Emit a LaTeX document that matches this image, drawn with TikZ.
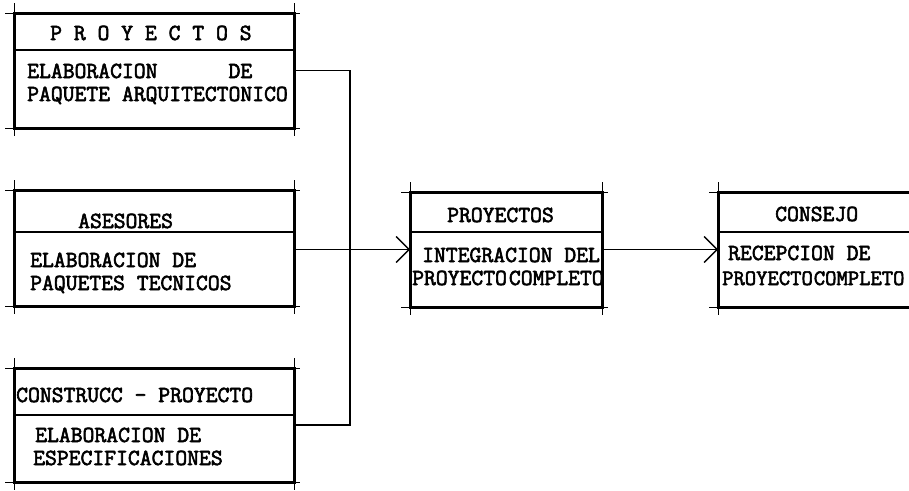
\documentclass[tikz,border=0pt]{standalone}
\usepackage{fontspec}
\newfontfamily\tw{Latin Modern Mono}[FakeBold=2.6]
\usetikzlibrary{arrows.meta}
\newcommand\crnr[1]{%
\draw[tick] ([xshift=-9pt]#1.north west) -- ([xshift=6pt]#1.north east);
\draw[tick] ([xshift=-9pt]#1.south west) -- ([xshift=6pt]#1.south east);
\draw[tick] ([yshift=10pt]#1.north west) -- ([yshift=-8pt]#1.south west);
\draw[tick] ([yshift=10pt]#1.north east) -- ([yshift=-8pt]#1.south east);}
\begin{document}
\begin{tikzpicture}[x=1pt,y=-1pt,
 box/.style={draw, line width=3pt, rectangle, inner sep=0pt, outer sep=0pt},
 tick/.style={line width=0.9pt},
 div/.style={line width=1.4pt},
 conn/.style={line width=1.3pt},
 arr/.style={conn,-{Straight Barb[length=13pt,width=26pt,line width=1.3pt]}},
 txt/.style={anchor=base west, inner sep=0pt, font=\tw\fontsize{23}{23}\selectfont}]
\useasboundingbox (0,0) rectangle (909,490);
\clip (0,0) rectangle (909,490);
% boxes
\node[box, minimum width=280pt, minimum height=115pt] (b1) at (154,70.5) {};
\node[box, minimum width=280pt, minimum height=116pt] (b2) at (154,248) {};
\node[box, minimum width=280pt, minimum height=114pt] (b3) at (154,425) {};
\node[box, minimum width=192pt, minimum height=115pt] (mid) at (506,249.5) {};
\node[box, minimum width=300pt, minimum height=115pt] (con) at (868,249.5) {};
\crnr{b1}\crnr{b2}\crnr{b3}\crnr{mid}\crnr{con}
% dividers
\draw[div] (14,50) -- (294,50);
\draw[div] (14,232) -- (294,232);
\draw[div] (14,415) -- (294,415);
\draw[div] (410,232) -- (602,232);
\draw[div] (718,232) -- (909,232);
% connectors
\draw[conn] (b1.east) -| ([xshift=56pt]b3.east) -- (b3.east);
\draw[arr] (mid.west -| b2.east) -- (mid.west);
\draw[arr] (mid.east) -- (con.west);
% texts
\node[txt] (t1a) at (50,40) {P R O Y E C T O S};
\node[txt] (t1b) at (27,78) {ELABORACION~~~~~~DE};
\node[txt] (t1c) at (27,101) {PAQUETE ARQUITECTONICO};
\node[txt] (t2a) at (78,228) {ASESORES};
\node[txt] (t2b) at (30,267) {ELABORACION DE};
\node[txt] (t2c) at (30,290) {PAQUETES TECNICOS};
\node[txt] (t3a) at (16,402) {CONSTRUCC - PROYECTO};
\node[txt] (t3b) at (35,442) {ELABORACION DE};
\node[txt] (t3c) at (33,465) {ESPECIFICACIONES};
\node[txt] (t4a) at (447,222) {PROYECTOS};
\node[txt] (t4b) at (422,262) {INTEGRACION DEL};
\node[txt] (t4c) at (412,285) {PROYECTO\hspace{2pt}COMPLETO};
\node[txt] (t5a) at (775,221) {CONSEJO};
\node[txt] (t5b) at (728,260) {RECEPCION DE};
\node[txt, font=\tw\fontsize{22}{22}\selectfont] (t5c) at (722,285) {PROYECTO\hspace{1pt}COMPLETO};
\end{tikzpicture}
\end{document}
